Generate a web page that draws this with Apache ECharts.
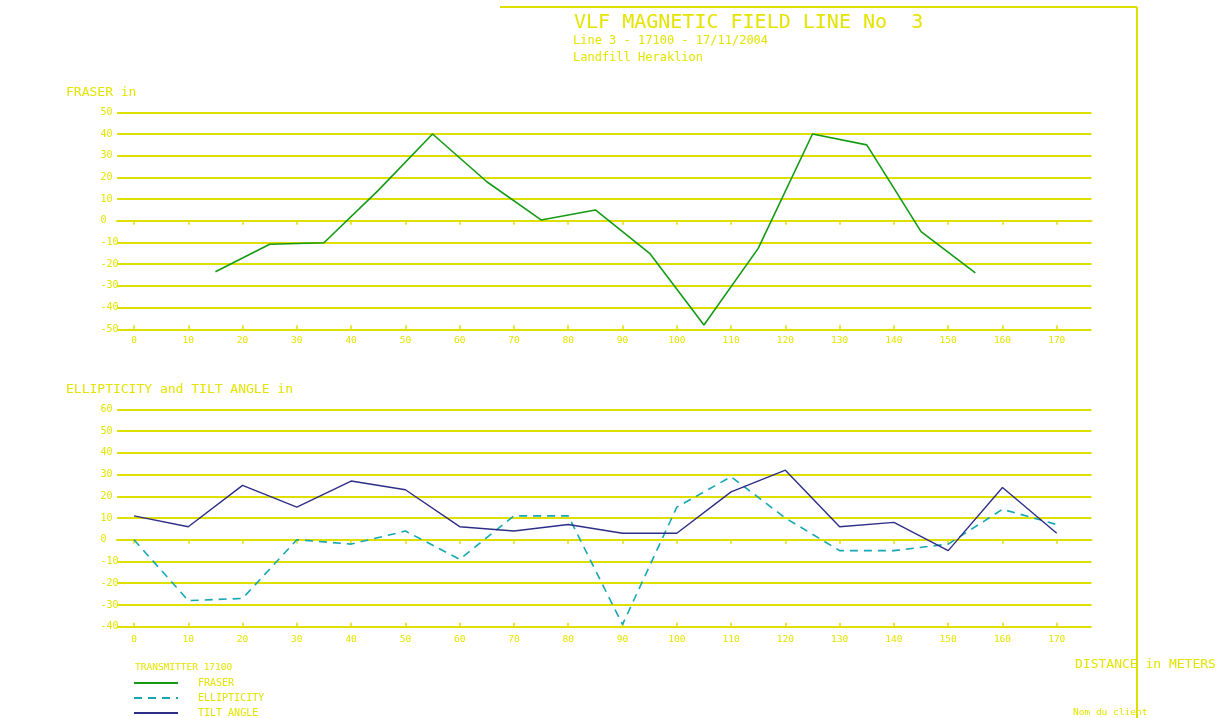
<!DOCTYPE html>
<html>
<head>
<meta charset="utf-8">
<script src="https://cdn.jsdelivr.net/npm/echarts@6/dist/echarts.min.js"></script>
<style>
html,body{margin:0;padding:0;background:#fff;}
#chart{width:1226px;height:718px;}
</style>
</head>
<body>
<div id="chart"></div>
<script>
// ---- Data ----
const xTicks = [0,10,20,30,40,50,60,70,80,90,100,110,120,130,140,150,160,170];
const fraserYTicks = [-50,-40,-30,-20,-10,0,10,20,30,40,50];
const ellipYTicks = [-40,-30,-20,-10,0,10,20,30,40,50,60];

const fraserX = [15,25,35,45,55,65,75,85,95,105,115,125,135,145,155];
const fraserY = [-23.5,-10.8,-10.1,14,40,18,0.4,5,-15,-48,-12.7,40,35,-5,-24];

const stationX = [0,10,20,30,40,50,60,70,80,90,100,110,120,130,140,150,160,170];
const ellipticity = [0,-28,-27,0,-2,4,-9,11,11,-39,15,29,10,-5,-5,-2,14,7];
const tiltAngle = [11,6,25,15,27,23,6,4,7,3,3,22,32,6,8,-5,24,3];

const titleText = 'VLF MAGNETIC FIELD LINE No  3';
const subtitle1 = 'Line 3 - 17100 - 17/11/2004';
const subtitle2 = 'Landfill Heraklion';

// ---- Styles ----
const YEL = '#dede00';
const TXT = '#e4e400';
const MONO = '"DejaVu Sans Mono", "Liberation Mono", monospace';

const pairs = (xs, ys) => xs.map((x, i) => [x, ys[i]]);

const X_MIN = -3.13, X_MAX = 176.4;

function xAxisPair(gridIndex, labelMargin) {
  return [
    {
      type: 'value', gridIndex, min: X_MIN, max: X_MAX, position: 'bottom',
      axisLine: { show: true, lineStyle: { color: YEL, width: 2 } },
      axisTick: { show: true, inside: false, length: 4, customValues: xTicks, lineStyle: { color: YEL, width: 1.5 } },
      axisLabel: { show: true, customValues: xTicks, color: TXT, fontFamily: MONO, fontSize: 9.5, margin: labelMargin },
      splitLine: { show: false }
    },
    {
      type: 'value', gridIndex, min: X_MIN, max: X_MAX, position: 'bottom',
      axisLine: { show: false },
      axisTick: { show: true, inside: true, length: 4, customValues: xTicks, lineStyle: { color: YEL, width: 1.5 } },
      axisLabel: { show: false },
      splitLine: { show: false }
    }
  ];
}

function yAxisDef(gridIndex, min, max) {
  return {
    type: 'value', gridIndex, min, max, interval: 10,
    axisLine: { show: false }, axisTick: { show: false },
    axisLabel: { color: TXT, fontFamily: MONO, fontSize: 10, align: 'left', margin: 16.5 },
    splitLine: { show: true, lineStyle: { color: YEL, width: 2 } }
  };
}

const chart = echarts.init(document.getElementById('chart'), null, { renderer: 'canvas' });

const ts = (size) => ({ fontFamily: MONO, color: TXT, fontWeight: 'normal', fontSize: size });

const option = {
  backgroundColor: '#ffffff',
  animation: false,
  title: [
    { text: titleText, left: 574, top: 13, padding: 0, textStyle: ts(20) },
    { text: subtitle1, left: 573, top: 35, padding: 0, textStyle: ts(12) },
    { text: subtitle2, left: 573, top: 52, padding: 0, textStyle: ts(12) },
    { text: 'FRASER in', left: 66, top: 86, padding: 0, textStyle: ts(13) },
    { text: 'ELLIPTICITY and TILT ANGLE in', left: 66, top: 383, padding: 0, textStyle: ts(13) },
    { text: 'TRANSMITTER 17100', left: 135, top: 663, padding: 0, textStyle: ts(9.5) },
    { text: 'DISTANCE in METERS', left: 1075, top: 658, padding: 0, textStyle: ts(13) },
    { text: 'Nom du client', left: 1073, top: 708, padding: 0, textStyle: ts(9.5) }
  ],
  legend: {
    orient: 'vertical', left: 133, top: 678, padding: 0,
    itemWidth: 44, itemHeight: 10, itemGap: 5,
    itemStyle: { opacity: 0 },
    textStyle: { fontFamily: MONO, color: TXT, fontSize: 10, padding: [0, 0, 0, 15] },
    data: ['FRASER', 'ELLIPTICITY', 'TILT ANGLE']
  },
  grid: [
    { left: 117, width: 974.5, top: 112.3, height: 217 },
    { left: 117, width: 974.5, top: 409.3, height: 217.4 }
  ],
  xAxis: [].concat(xAxisPair(0, 6), xAxisPair(1, 8)),
  yAxis: [yAxisDef(0, -50, 50), yAxisDef(1, -40, 60)],
  series: [
    {
      name: 'FRASER', type: 'line', xAxisIndex: 0, yAxisIndex: 0,
      data: pairs(fraserX, fraserY), symbol: 'none',
      lineStyle: { color: '#159a15', width: 1.6 }, itemStyle: { color: '#159a15' }
    },
    {
      name: 'ELLIPTICITY', type: 'line', xAxisIndex: 2, yAxisIndex: 1,
      data: pairs(stationX, ellipticity), symbol: 'none',
      lineStyle: { color: '#17a6b4', width: 1.6, type: [8, 6] }, itemStyle: { color: '#17a6b4' }
    },
    {
      name: 'TILT ANGLE', type: 'line', xAxisIndex: 2, yAxisIndex: 1,
      data: pairs(stationX, tiltAngle), symbol: 'none',
      lineStyle: { color: '#2e2e88', width: 1.4 }, itemStyle: { color: '#2e2e88' }
    }
  ],
  graphic: [
    { type: 'line', shape: { x1: 500, y1: 7, x2: 1137, y2: 7 }, style: { stroke: YEL, lineWidth: 2 } },
    { type: 'line', shape: { x1: 1137, y1: 7, x2: 1137, y2: 718 }, style: { stroke: YEL, lineWidth: 2 } }
  ]
};

chart.setOption(option);
</script>
</body>
</html>
